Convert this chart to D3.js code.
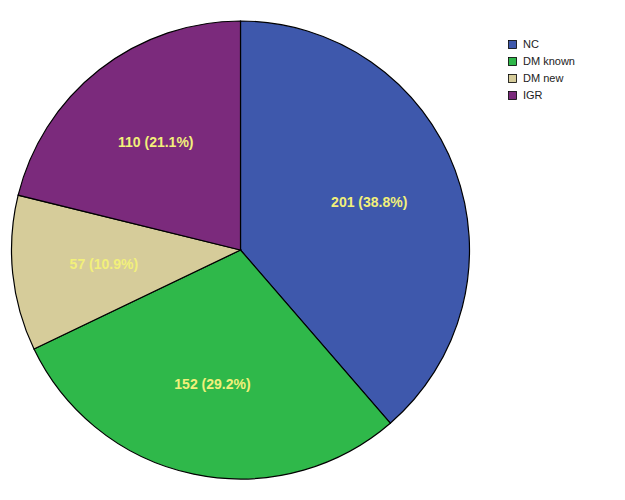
<!DOCTYPE html>
<html>
<head>
<meta charset="utf-8">
<script src="https://cdn.jsdelivr.net/npm/d3@7"></script>
<style>
  body { margin: 0; background: #fff; }
  text { font-family: "Liberation Sans", Arial, sans-serif; }
</style>
</head>
<body>
<div id="chart"></div>
<script>
var width = 625,
    height = 500;

// groups and counts
var groups = ["NC", "DM known", "DM new", "IGR"];
var counts = [201, 152, 57, 110];
var percents = ["38.8%", "29.2%", "10.9%", "21.1%"];
var colors = ["#3e58ac", "#2fb84a", "#d6cc9a", "#7b2a7c"];

var svg = d3.select("#chart").append("svg")
    .attr("width", width)
    .attr("height", height);

var radius = 229;

var g = svg.append("g")
    .attr("transform", "translate(240.5,250)");

var pie = d3.pie()
    .sort(null)
    .value(function(d) { return d; });

var arc = d3.arc()
    .innerRadius(0)
    .outerRadius(radius);

var labelArc = d3.arc()
    .innerRadius(radius * 0.6)
    .outerRadius(radius * 0.6);

var color = d3.scaleOrdinal()
    .domain(groups)
    .range(colors);

var arcs = pie(counts);

g.selectAll("path")
    .data(arcs)
  .enter()
    .append("path")
    .attr("d", arc)
    .style("fill", function(d, i) { return color(groups[i]); })
    .style("stroke", "#000")
    .style("stroke-width", 1.2);

g.selectAll("text.lbl")
    .data(arcs)
  .enter()
    .append("text")
    .attr("class", "lbl")
    .attr("transform", function(d) { return "translate(" + labelArc.centroid(d) + ")"; })
    .attr("text-anchor", "middle")
    .attr("dy", "0.35em")
    .style("font-size", "14px")
    .style("font-weight", "bold")
    .style("fill", "#f2f07a")
    .text(function(d, i) { return counts[i] + " (" + percents[i] + ")"; });

// legend
var legend = svg.append("g")
    .attr("transform", "translate(508,36)");

var row = d3.scaleBand()
    .domain(groups)
    .range([0, 68]);

var item = legend.selectAll("g")
    .data(groups)
  .enter()
    .append("g")
    .attr("transform", function(d) { return "translate(0," + row(d) + ")"; });

item.append("rect")
    .attr("x", 0.5)
    .attr("y", 4.5)
    .attr("width", 8)
    .attr("height", 8)
    .style("fill", function(d) { return color(d); })
    .style("stroke", "#000")
    .style("stroke-width", 0.8);

item.append("text")
    .attr("x", 15)
    .attr("y", 8.5)
    .attr("dy", "0.35em")
    .style("font-size", "11px")
    .style("fill", "#222")
    .text(function(d) { return d; });
</script>
</body>
</html>
